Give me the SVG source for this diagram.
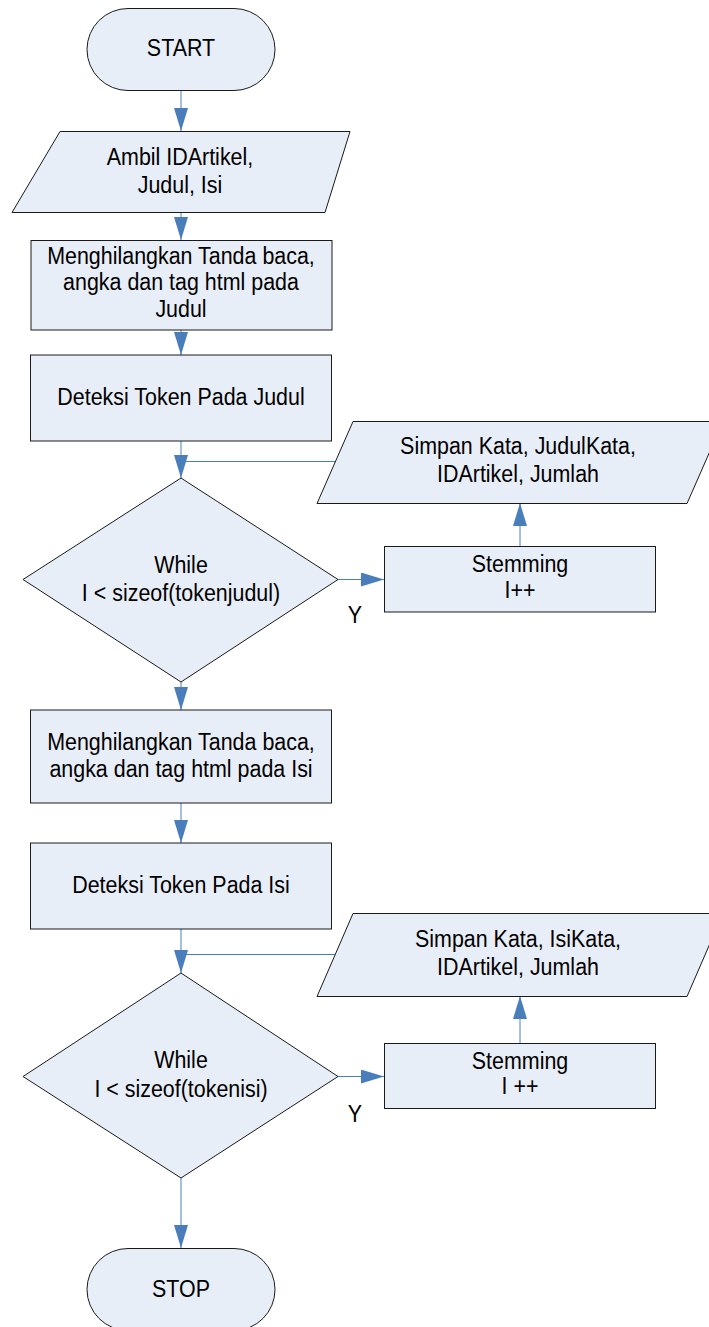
<svg xmlns="http://www.w3.org/2000/svg" width="709" height="1327" viewBox="0 0 709 1327">
  <style>
    .shape { fill: #E8EEF7; stroke: #1a1a1a; stroke-width: 1; }
    .label { font-family: "Liberation Sans", Arial, sans-serif; font-size: 23.3px; fill: #000; text-anchor: middle; }
    .conn { fill: none; stroke: #4A7EBB; stroke-width: 1; }
  </style>
  <defs>
    <marker id="arrow" markerUnits="userSpaceOnUse" markerWidth="24" markerHeight="15" refX="23" refY="7" orient="auto">
      <path d="M0,0 L23,7 L0,14 z" fill="#4A7EBB"/>
    </marker>
  </defs>
  <rect width="709" height="1327" fill="#ffffff"/>

  <!-- connectors -->
  <g id="connectors">
    <line class="conn" x1="181" y1="91" x2="181" y2="131" marker-end="url(#arrow)"/>
    <line class="conn" x1="181" y1="212" x2="181" y2="240" marker-end="url(#arrow)"/>
    <line class="conn" x1="181" y1="330" x2="181" y2="355" marker-end="url(#arrow)"/>
    <line class="conn" x1="181" y1="441" x2="181" y2="478" marker-end="url(#arrow)"/>
    <line class="conn" x1="335" y1="461.5" x2="181" y2="461.5"/>
    <line class="conn" x1="338" y1="579.5" x2="384" y2="579.5" marker-end="url(#arrow)"/>
    <line class="conn" x1="520" y1="546" x2="520" y2="503" marker-end="url(#arrow)"/>
    <line class="conn" x1="181" y1="682" x2="181" y2="710" marker-end="url(#arrow)"/>
    <line class="conn" x1="181" y1="803" x2="181" y2="843" marker-end="url(#arrow)"/>
    <line class="conn" x1="181" y1="929" x2="181" y2="973" marker-end="url(#arrow)"/>
    <line class="conn" x1="335" y1="954.5" x2="181" y2="954.5"/>
    <line class="conn" x1="338" y1="1076.5" x2="384" y2="1076.5" marker-end="url(#arrow)"/>
    <line class="conn" x1="520" y1="1043" x2="520" y2="996" marker-end="url(#arrow)"/>
    <line class="conn" x1="181" y1="1178" x2="181" y2="1248" marker-end="url(#arrow)"/>
  </g>

  <!-- labels use a slightly condensed face: matrix(0.92 0 0 1 x y) -->
  <g id="start">
    <rect class="shape" x="87" y="8.5" width="188" height="82" rx="41" ry="41"/>
    <text class="label" transform="matrix(0.92 0 0 1 181 56)">START</text>
  </g>

  <g id="input-artikel">
    <polygon class="shape" points="60,131.5 350,131.5 325,212.5 12,212.5"/>
    <text class="label" transform="matrix(0.92 0 0 1 180 165)">Ambil IDArtikel,</text>
    <text class="label" transform="matrix(0.92 0 0 1 180 192.5)">Judul, Isi</text>
  </g>

  <g id="bersih-judul">
    <rect class="shape" x="31" y="240.5" width="301" height="89.5"/>
    <text class="label" transform="matrix(0.92 0 0 1 181 263.5)">Menghilangkan Tanda baca,</text>
    <text class="label" transform="matrix(0.92 0 0 1 181 290)">angka dan tag html pada</text>
    <text class="label" transform="matrix(0.92 0 0 1 181 316.5)">Judul</text>
  </g>

  <g id="token-judul">
    <rect class="shape" x="30.5" y="355" width="301" height="86"/>
    <text class="label" transform="matrix(0.92 0 0 1 181 405)">Deteksi Token Pada Judul</text>
  </g>

  <g id="while-judul">
    <polygon class="shape" points="181,478 338,579.5 181,682 23,579.5"/>
    <text class="label" transform="matrix(0.92 0 0 1 181 572.5)">While</text>
    <text class="label" transform="matrix(0.92 0 0 1 181 600.5)">I &lt; sizeof(tokenjudul)</text>
  </g>

  <g id="stem-judul">
    <rect class="shape" x="384.5" y="546.5" width="271" height="65.5"/>
    <text class="label" transform="matrix(0.92 0 0 1 520 572)">Stemming</text>
    <text class="label" transform="matrix(0.92 0 0 1 520 598)">I++</text>
  </g>

  <g id="simpan-judul">
    <polygon class="shape" points="353,421.5 723,421.5 687,503.5 317,503.5"/>
    <text class="label" transform="matrix(0.92 0 0 1 518 454)">Simpan Kata, JudulKata,</text>
    <text class="label" transform="matrix(0.92 0 0 1 518 482)">IDArtikel, Jumlah</text>
  </g>

  <g id="y-judul">
    <text class="label" transform="matrix(0.92 0 0 1 355 623)">Y</text>
  </g>

  <g id="bersih-isi">
    <rect class="shape" x="30.5" y="710" width="301" height="93"/>
    <text class="label" transform="matrix(0.92 0 0 1 181 750)">Menghilangkan Tanda baca,</text>
    <text class="label" transform="matrix(0.92 0 0 1 181 777)">angka dan tag html pada Isi</text>
  </g>

  <g id="token-isi">
    <rect class="shape" x="30.5" y="843" width="301" height="86"/>
    <text class="label" transform="matrix(0.92 0 0 1 181 893)">Deteksi Token Pada Isi</text>
  </g>

  <g id="while-isi">
    <polygon class="shape" points="181,973 338,1076.5 181,1178 23,1076.5"/>
    <text class="label" transform="matrix(0.92 0 0 1 181 1068)">While</text>
    <text class="label" transform="matrix(0.92 0 0 1 181 1096.5)">I &lt; sizeof(tokenisi)</text>
  </g>

  <g id="stem-isi">
    <rect class="shape" x="384.5" y="1043.5" width="271" height="65"/>
    <text class="label" transform="matrix(0.92 0 0 1 520 1068.5)">Stemming</text>
    <text class="label" transform="matrix(0.92 0 0 1 520 1093.5)">I ++</text>
  </g>

  <g id="simpan-isi">
    <polygon class="shape" points="353,913.5 723,913.5 687,996.5 317,996.5"/>
    <text class="label" transform="matrix(0.92 0 0 1 518 947)">Simpan Kata, IsiKata,</text>
    <text class="label" transform="matrix(0.92 0 0 1 518 975)">IDArtikel, Jumlah</text>
  </g>

  <g id="y-isi">
    <text class="label" transform="matrix(0.92 0 0 1 355 1122)">Y</text>
  </g>

  <g id="stop">
    <rect class="shape" x="87" y="1248.5" width="188" height="82" rx="41" ry="41"/>
    <text class="label" transform="matrix(0.92 0 0 1 181 1297)">STOP</text>
  </g>
</svg>
